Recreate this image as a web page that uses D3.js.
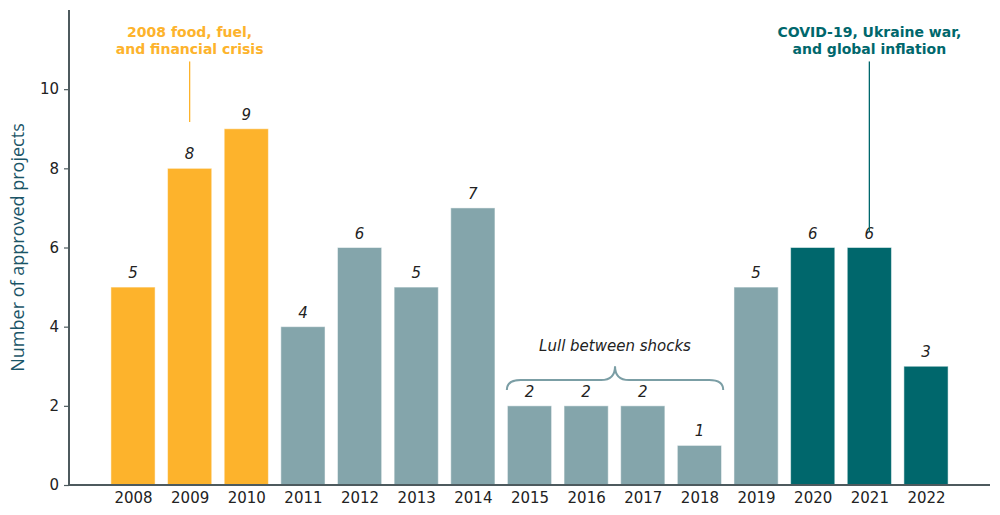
<!DOCTYPE html>
<html><head><meta charset="utf-8">
<script src="https://cdn.jsdelivr.net/npm/d3@7/dist/d3.min.js"></script>
<style>body{margin:0;background:#fff}svg{display:block}</style>
</head><body>
<svg id="c" width="1000" height="515"></svg>
<script>
const years = [2008,2009,2010,2011,2012,2013,2014,2015,2016,2017,2018,2019,2020,2021,2022];
const projects = [5,8,9,4,6,5,7,2,2,2,1,5,6,6,3];
const periods = ["crisis","crisis","crisis","normal","normal","normal","normal","normal","normal","normal","normal","normal","covid","covid","covid"];
const yTicks = [0,2,4,6,8,10];
const colors = {crisis:"#FDB32C", normal:"#84A5AB", covid:"#00676C"};
const annotations = [
  {lines:["2008 food, fuel,","and financial crisis"], x:2009, lineTop:10.7, lineBottom:9.17, color:"#FDB32C"},
  {lines:["COVID-19, Ukraine war,","and global inflation"], x:2021, lineTop:10.7, lineBottom:6.4, color:"#00676C"}
];
const lull = {label:"Lull between shocks", x0:2014.6, x1:2018.42, labelY:3.5};

const svg = d3.select("#c");
const L=69, R=990, T=10, B=485;
const x = d3.scaleLinear().domain([2008-1.13, 2022+1.13]).range([L,R]);
const y = d3.scaleLinear().domain([0,12]).range([B,T]);
const step = x(2009)-x(2008);
const bw = step*0.78;

// bars
svg.append("g").selectAll("rect").data(years).join("rect")
  .attr("x", (d)=>x(d)-bw/2)
  .attr("width", bw)
  .attr("y", (d,i)=>y(projects[i]))
  .attr("height", (d,i)=>y(0)-y(projects[i]))
  .attr("fill", (d,i)=>colors[periods[i]])
  .attr("stroke","#ffffff").attr("stroke-opacity",0.5).attr("stroke-width",1);

// value labels
svg.append("g").selectAll("text").data(years).join("text")
  .attr("x", d=>x(d)).attr("y",(d,i)=>y(projects[i])-9)
  .attr("text-anchor","middle")
  .attr("font-family","DejaVu Sans").attr("font-style","italic").attr("font-size",15)
  .attr("fill","#222").text((d,i)=>projects[i]);

// axes
const yAxis = svg.append("g").attr("transform",`translate(${L},0)`)
  .call(d3.axisLeft(y).tickValues(yTicks).tickSize(5).tickPadding(5).tickSizeOuter(0));
yAxis.select(".domain").remove();
yAxis.selectAll(".tick line").attr("stroke","#4d5a5e").attr("stroke-width",1.2);
yAxis.selectAll(".tick text").attr("font-family","DejaVu Sans").attr("font-size",15).attr("fill","#222");

const xAxis = svg.append("g").attr("transform",`translate(0,${B})`)
  .call(d3.axisBottom(x).tickValues(years).tickFormat(d3.format("d")).tickSize(0).tickPadding(7));
xAxis.select(".domain").remove();
xAxis.selectAll(".tick text").attr("font-family","DejaVu Sans").attr("font-size",15).attr("fill","#222");

svg.append("line").attr("x1",L).attr("x2",L).attr("y1",T).attr("y2",B+1)
  .attr("stroke","#4d5a5e").attr("stroke-width",2);
svg.append("line").attr("x1",L-1).attr("x2",R).attr("y1",B).attr("y2",B)
  .attr("stroke","#4d5a5e").attr("stroke-width",2);

// y label
svg.append("text").attr("transform",`translate(24,${(T+B)/2}) rotate(-90)`)
  .attr("text-anchor","middle").attr("font-family","Open Sans").attr("font-size",18)
  .attr("fill","#1B5567").text("Number of approved projects");

// annotations
annotations.forEach(a=>{
  svg.append("line").attr("x1",x(a.x)).attr("x2",x(a.x))
    .attr("y1",y(a.lineTop)).attr("y2",y(a.lineBottom))
    .attr("stroke",a.color).attr("stroke-width",1.3);
  const t = svg.append("text").attr("text-anchor","middle")
    .attr("font-family","DejaVu Sans").attr("font-weight","bold").attr("font-size",14)
    .attr("fill",a.color);
  a.lines.forEach((ln,i)=>t.append("tspan").attr("x",x(a.x)).attr("y",37+i*17).text(ln));
});

// brace
const bx0=x(lull.x0), bx1=x(lull.x1), bm=(bx0+bx1)/2;
const by=y(2.65), bEnd=y(2.4), bPeak=y(3.0);
const bp = d3.path();
bp.moveTo(bx0,bEnd);
bp.quadraticCurveTo(bx0,by,bx0+14,by);
bp.lineTo(bm-14,by);
bp.quadraticCurveTo(bm,by,bm,bPeak);
bp.quadraticCurveTo(bm,by,bm+14,by);
bp.lineTo(bx1-14,by);
bp.quadraticCurveTo(bx1,by,bx1,bEnd);
svg.append("path").attr("d",bp.toString()).attr("fill","none")
  .attr("stroke","#7B9EA5").attr("stroke-width",2);
svg.append("text").attr("x",bm).attr("y",y(lull.labelY)+5).attr("text-anchor","middle")
  .attr("font-family","DejaVu Sans").attr("font-style","italic").attr("font-size",15)
  .attr("fill","#222").text(lull.label);
</script>
</body></html>
